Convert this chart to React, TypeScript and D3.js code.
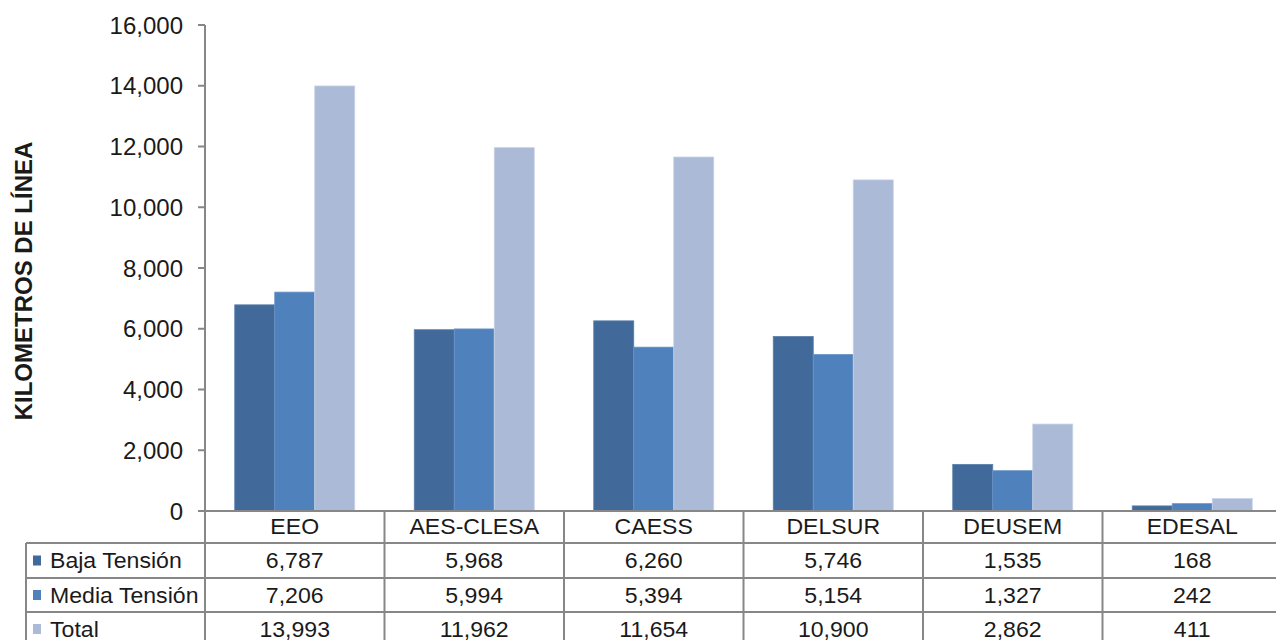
import React from "react";
import * as d3 from "d3";

const categories = ["EEO", "AES-CLESA", "CAESS", "DELSUR", "DEUSEM", "EDESAL"];
const seriesNames = ["Baja Tensión", "Media Tensión", "Total"];
const bajaTension = [6787, 5968, 6260, 5746, 1535, 168];
const mediaTension = [7206, 5994, 5394, 5154, 1327, 242];
const total = [13993, 11962, 11654, 10900, 2862, 411];
const yTicks = [0, 2000, 4000, 6000, 8000, 10000, 12000, 14000, 16000];
const colors = ["#416A9B", "#4F81BD", "#AABAD7"];
const strokes = ["#5a7fab", "#6a94c8", "#c8d3e7"];

const W = 1276;
const H = 640;
const FONT = "'Liberation Sans', Arial, sans-serif";
const SX = 1.05;

function T(props: { x: number; y: number; anchor?: string; children: React.ReactNode }) {
  return (
    <text
      transform={`translate(${props.x}, ${props.y}) scale(${SX}, 1)`}
      textAnchor={props.anchor || "start"}
      fontSize={22}
      fill="#1a1a1a"
    >
      {props.children}
    </text>
  );
}

export default function App() {
  const series = [bajaTension, mediaTension, total];
  const plotLeft = 205;
  const catW = 179.5;
  const plotRight = plotLeft + catW * categories.length;
  const y0 = 511;
  const yTop = 25;

  const x = d3.scaleBand<string>().domain(categories).range([plotLeft, plotRight]).paddingInner(0).paddingOuter(0);
  const inner = d3
    .scaleBand<string>()
    .domain(seriesNames)
    .range([29.75, catW - 29.75])
    .padding(0);
  const y = d3.scaleLinear().domain([0, 16000]).range([y0, yTop]);
  const fmt = d3.format(",");

  const gridColor = "#878787";
  const rowTops = [511, 543, 578, 612, 646];
  const tableLeft = 26;

  return (
    <svg
      width={W}
      height={H}
      style={{ position: "absolute", left: 0, top: 0, background: "#fff" }}
      fontFamily={FONT}
    >
      <rect x={0} y={0} width={W} height={H} fill="#fff" />
      {categories.map((c, i) => (
        <g key={c}>
          {series.map((s, j) => (
            <rect
              key={j}
              x={(x(c) as number) + (inner(seriesNames[j]) as number)}
              y={y(s[i])}
              width={inner.bandwidth()}
              height={y0 - y(s[i])}
              fill={colors[j]}
              stroke={strokes[j]}
              strokeWidth={0.8}
            />
          ))}
        </g>
      ))}

      <line x1={plotLeft} x2={plotLeft} y1={yTop} y2={y0} stroke={gridColor} strokeWidth={2} />
      {yTicks.map((t) => (
        <g key={t}>
          <line x1={198} x2={plotLeft} y1={y(t)} y2={y(t)} stroke={gridColor} strokeWidth={2} />
          <text x={183} y={y(t) + 8.5} textAnchor="end" fontSize={24} fill="#1a1a1a">
            {fmt(t)}
          </text>
        </g>
      ))}
      <text
        transform={`translate(32, 281) rotate(-90)`}
        textAnchor="middle"
        fontSize={24}
        fontWeight="bold"
        fill="#1a1a1a"
      >
        KILOMETROS DE LÍNEA
      </text>

      <line x1={198} x2={W} y1={y0} y2={y0} stroke={gridColor} strokeWidth={2} />
      {rowTops.slice(1).map((r) => (
        <line key={r} x1={tableLeft} x2={W} y1={r} y2={r} stroke={gridColor} strokeWidth={2} />
      ))}
      <line x1={tableLeft} x2={tableLeft} y1={rowTops[1]} y2={H} stroke={gridColor} strokeWidth={2} />
      {categories.map((c) => (
        <line
          key={c}
          x1={x(c) as number}
          x2={x(c) as number}
          y1={y0}
          y2={H}
          stroke={gridColor}
          strokeWidth={2}
        />
      ))}
      {categories.map((c) => (
        <T key={c} x={(x(c) as number) + x.bandwidth() / 2} y={534} anchor="middle">
          {c}
        </T>
      ))}
      {series.map((s, j) => {
        const top = rowTops[j + 1];
        const bottom = rowTops[j + 2];
        const cy = (top + bottom) / 2;
        return (
          <g key={j}>
            <rect x={33} y={cy - 5} width={8} height={10} fill={colors[j]} />
            <T x={50} y={cy + 7.5}>
              {seriesNames[j]}
            </T>
            {categories.map((c, i) => (
              <T key={c} x={(x(c) as number) + x.bandwidth() / 2} y={cy + 7.5} anchor="middle">
                {fmt(s[i])}
              </T>
            ))}
          </g>
        );
      })}
    </svg>
  );
}
